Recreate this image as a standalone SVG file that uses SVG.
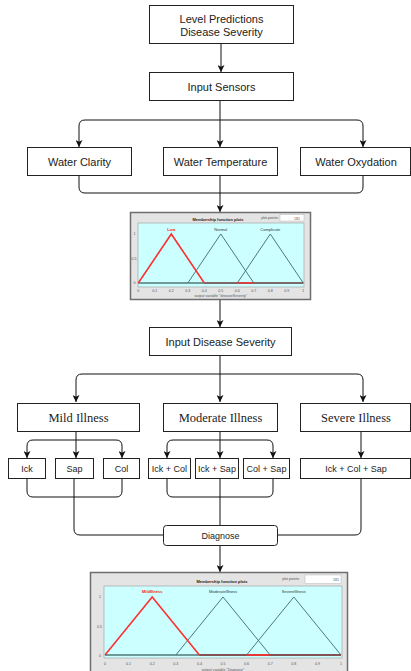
<svg xmlns="http://www.w3.org/2000/svg" width="411" height="671" viewBox="0 0 411 671">
<style>
.box{fill:#fff;stroke:#222;stroke-width:1}
.t{font-family:"Liberation Sans",Arial,sans-serif;font-size:11px;fill:#222;text-anchor:middle;dominant-baseline:central}
.s{font-family:"Liberation Serif","Times New Roman",serif;font-size:12.5px;fill:#222;text-anchor:middle;dominant-baseline:central}
.sm{font-family:"Liberation Sans",Arial,sans-serif;font-size:9px;fill:#222;text-anchor:middle;dominant-baseline:central}
.c{fill:none;stroke:#111;stroke-width:1}
.frame{fill:#e4e4e4;stroke:#6e6e6e;stroke-width:1.5}
.area{fill:#ccffff;stroke:#9a9a9a;stroke-width:0.6}
.mf{fill:none;stroke:#507878;stroke-width:1}
.sel{fill:none;stroke:#ff3030;stroke-width:1.6}
.pt{font-family:"Liberation Sans",Arial,sans-serif;font-size:3.6px;fill:#555;text-anchor:middle}
.ptb{font-family:"Liberation Sans",Arial,sans-serif;font-size:4px;font-weight:bold;fill:#222;text-anchor:middle}
.lab{font-family:"Liberation Sans",Arial,sans-serif;font-size:4px;fill:#333;text-anchor:middle}
.labr{font-family:"Liberation Sans",Arial,sans-serif;font-size:4px;font-weight:bold;fill:#ff2020;text-anchor:middle}
</style>
<defs>
<marker id="arr" viewBox="0 0 8 8" refX="8" refY="4" markerWidth="7" markerHeight="7" orient="auto" markerUnits="userSpaceOnUse">
<path d="M0,0 L8,4 L0,8 L2,4 z" fill="#111"/>
</marker>
</defs>

<g id="connectors">
<path class="c" d="M221,44 V72" marker-end="url(#arr)"/>
<path class="c" d="M220,101 V147" marker-end="url(#arr)"/>
<path class="c" d="M220,120 H85 Q79,120 79,126 V147" marker-end="url(#arr)"/>
<path class="c" d="M220,120 H357 Q363,120 363,126 V147" marker-end="url(#arr)"/>
<path class="c" d="M79,175 V187 Q79,193 85,193 H357 Q363,193 363,187 V175"/>
<path class="c" d="M220,175 V212" marker-end="url(#arr)"/>
<path class="c" d="M220,299 V327" marker-end="url(#arr)"/>
<path class="c" d="M220,355 V402" marker-end="url(#arr)"/>
<path class="c" d="M220,374 H82 Q76,374 76,380 V402" marker-end="url(#arr)"/>
<path class="c" d="M220,374 H357 Q363,374 363,380 V402" marker-end="url(#arr)"/>
<path class="c" d="M76,431 V458" marker-end="url(#arr)"/>
<path class="c" d="M76,440 H33 Q27,440 27,446 V458" marker-end="url(#arr)"/>
<path class="c" d="M76,440 H116 Q122,440 122,446 V458" marker-end="url(#arr)"/>
<path class="c" d="M220,431 V458" marker-end="url(#arr)"/>
<path class="c" d="M220,440 H173 Q167,440 167,446 V458" marker-end="url(#arr)"/>
<path class="c" d="M220,440 H267 Q273,440 273,446 V458" marker-end="url(#arr)"/>
<path class="c" d="M361,431 V458" marker-end="url(#arr)"/>
<path class="c" d="M27,478 V491 Q27,497 33,497 H116 Q122,497 122,491 V478"/>
<path class="c" d="M74,478 V529 Q74,535 80,535 H163"/>
<path class="c" d="M167,478 V491 Q167,497 173,497 H267 Q273,497 273,491 V478"/>
<path class="c" d="M220,478 V525"/>
<path class="c" d="M361,478 V529 Q361,535 355,535 H277"/>
<path class="c" d="M220,545 V572" marker-end="url(#arr)"/>
</g>

<g id="level-predictions">
<rect class="box" x="149.5" y="5.5" width="144" height="38"/>
<text class="t" x="221.5" y="19">Level Predictions</text>
<text class="t" x="221.5" y="32">Disease Severity</text>
</g>
<g id="input-sensors">
<rect class="box" x="149.5" y="72.5" width="144" height="28"/>
<text class="t" x="221.5" y="86.5">Input Sensors</text>
</g>
<g id="water-clarity">
<rect class="box" x="27.5" y="147.5" width="104" height="28"/>
<text class="t" x="79.5" y="161.5">Water Clarity</text>
</g>
<g id="water-temperature">
<rect class="box" x="163.5" y="147.5" width="114" height="28"/>
<text class="t" x="220.5" y="161.5">Water Temperature</text>
</g>
<g id="water-oxydation">
<rect class="box" x="300.5" y="147.5" width="110" height="28"/>
<text class="t" x="356" y="161.5">Water Oxydation</text>
</g>

<g id="plot-severity">
<rect class="frame" x="130.5" y="212.5" width="180" height="87"/>
<text class="ptb" x="218" y="220.5">Membership function plots</text>
<text class="pt" x="270" y="218.5">plot points:</text>
<rect x="280" y="214.5" width="24" height="6.5" fill="#fff" stroke="#aaa" stroke-width="0.4"/>
<text class="pt" x="300" y="219.5" style="text-anchor:end">181</text>
<rect class="area" x="138" y="223" width="166" height="64"/>
<text class="pt" x="134.5" y="235">1</text>
<text class="pt" x="134" y="259.5">0.5</text>
<text class="pt" x="134.5" y="284">0</text>
<polyline class="mf" points="187.8,283 220.8,234 253.8,283"/>
<polyline class="mf" points="237.3,283 270.3,234 303.3,283"/>
<line x1="138.3" y1="283" x2="303.3" y2="283" stroke="#507878" stroke-width="1.4"/>
<line x1="204.3" y1="283" x2="303.3" y2="283" stroke="#8a3a3a" stroke-width="1.2"/>
<line x1="237.3" y1="283" x2="253.8" y2="283" stroke="#ff3030" stroke-width="1.4"/>
<polyline class="sel" points="138.3,283 171.3,234 204.3,283"/>
<text class="labr" x="171.3" y="231">Low</text>
<text class="lab" x="220.8" y="231">Normal</text>
<text class="lab" x="270.3" y="231">Complicate</text>
<g class="pt">
<text x="138.3" y="291.5">0</text><text x="154.8" y="291.5">0.1</text><text x="171.3" y="291.5">0.2</text><text x="187.8" y="291.5">0.3</text><text x="204.3" y="291.5">0.4</text><text x="220.8" y="291.5">0.5</text><text x="237.3" y="291.5">0.6</text><text x="253.8" y="291.5">0.7</text><text x="270.3" y="291.5">0.8</text><text x="286.8" y="291.5">0.9</text><text x="303.3" y="291.5">1</text>
</g>
<text class="pt" x="220.8" y="296.5">output variable "diseaseSeverity"</text>
</g>

<g id="input-disease-severity">
<rect class="box" x="149.5" y="327.5" width="142" height="28"/>
<text class="t" x="220.5" y="341.5">Input Disease Severity</text>
</g>
<g id="mild-illness">
<rect class="box" x="17.5" y="403.5" width="122" height="28"/>
<text class="s" x="78.5" y="417.5">Mild Illness</text>
</g>
<g id="moderate-illness">
<rect class="box" x="163.5" y="403.5" width="114" height="28"/>
<text class="s" x="220.5" y="417.5">Moderate Illness</text>
</g>
<g id="severe-illness">
<rect class="box" x="300.5" y="403.5" width="110" height="28"/>
<text class="s" x="356" y="417.5">Severe Illness</text>
</g>
<g id="ick">
<rect class="box" x="8.5" y="458.5" width="37" height="20"/>
<text class="sm" x="27" y="468.5">Ick</text>
</g>
<g id="sap">
<rect class="box" x="55.5" y="458.5" width="38" height="20"/>
<text class="sm" x="74.5" y="468.5">Sap</text>
</g>
<g id="col">
<rect class="box" x="103.5" y="458.5" width="36" height="20"/>
<text class="sm" x="121.5" y="468.5">Col</text>
</g>
<g id="ick-col">
<rect class="box" x="148.5" y="458.5" width="42" height="20"/>
<text class="sm" x="169.5" y="468.5">Ick + Col</text>
</g>
<g id="ick-sap">
<rect class="box" x="195.5" y="458.5" width="43" height="20"/>
<text class="sm" x="217" y="468.5">Ick + Sap</text>
</g>
<g id="col-sap">
<rect class="box" x="243.5" y="458.5" width="46" height="20"/>
<text class="sm" x="266.5" y="468.5">Col + Sap</text>
</g>
<g id="ick-col-sap">
<rect class="box" x="300.5" y="458.5" width="110" height="20"/>
<text class="sm" x="356" y="468.5">Ick + Col + Sap</text>
</g>
<g id="diagnose">
<rect class="box" x="163.5" y="525.5" width="114" height="20" rx="3"/>
<text class="sm" x="220.5" y="535.5">Diagnose</text>
</g>

<g id="plot-diagnose">
<rect class="frame" x="90.5" y="572.5" width="257" height="110"/>
<text class="ptb" x="222" y="582.5">Membership function plots</text>
<text class="pt" x="291" y="580">plot points:</text>
<rect x="305" y="575" width="36" height="8.5" fill="#fff" stroke="#aaa" stroke-width="0.4"/>
<text class="pt" x="339" y="580.5" style="text-anchor:end">181</text>
<rect class="area" x="104" y="586" width="238" height="72"/>
<text class="pt" x="100" y="598">1</text>
<text class="pt" x="99.5" y="627.5">0.5</text>
<text class="pt" x="100" y="656.5">0</text>
<polyline class="mf" points="175.8,655 223,597 270.2,655"/>
<polyline class="mf" points="246.6,655 293.8,597 341,655"/>
<line x1="105" y1="655" x2="341" y2="655" stroke="#507878" stroke-width="1.6"/>
<line x1="199.4" y1="655" x2="341" y2="655" stroke="#8a3a3a" stroke-width="1.4"/>
<line x1="246.6" y1="655" x2="270.2" y2="655" stroke="#ff3030" stroke-width="1.6"/>
<polyline class="sel" points="105,655 152.2,597 199.4,655"/>
<text class="labr" x="152.2" y="593">MildIllness</text>
<text class="lab" x="223" y="593">ModerateIllness</text>
<text class="lab" x="293.8" y="593">SevereIllness</text>
<g class="pt">
<text x="105" y="665">0</text><text x="128.6" y="665">0.1</text><text x="152.2" y="665">0.2</text><text x="175.8" y="665">0.3</text><text x="199.4" y="665">0.4</text><text x="223" y="665">0.5</text><text x="246.6" y="665">0.6</text><text x="270.2" y="665">0.7</text><text x="293.8" y="665">0.8</text><text x="317.4" y="665">0.9</text><text x="341" y="665">1</text>
</g>
<text class="pt" x="223" y="671">output variable "Diagnose"</text>
</g>
</svg>
